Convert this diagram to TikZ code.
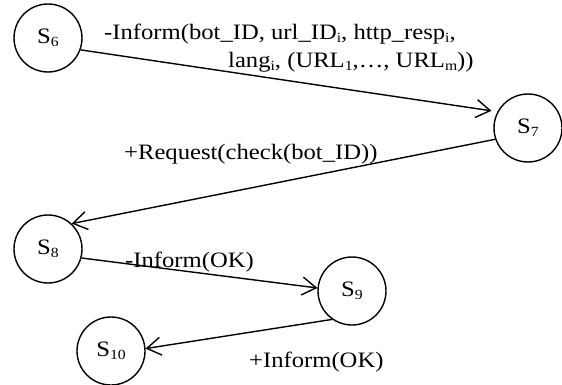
\documentclass[tikz,border=0pt]{standalone}
\usepackage{fontspec}
\setmainfont[FakeStretch=1.12]{Liberation Serif}
\usepackage{xcolor}
\usetikzlibrary{arrows.meta}
\definecolor{ink}{HTML}{000000}
\newcommand{\sbs}[1]{\raisebox{-3pt}{\fontsize{14}{14}\selectfont #1}}
\tikzset{
  state/.style={circle, draw=ink, line width=1.4pt, minimum size=68pt, inner sep=0pt, font=\fontsize{22}{24}\selectfont},
  msg/.style={draw=ink, line width=1.4pt, -{Straight Barb[length=14pt,width=18pt,line width=1.4pt]}},
  lab/.style={text=ink, inner sep=0pt, font=\fontsize{22}{28}\selectfont},
}
\begin{document}
\begin{tikzpicture}[x=1pt,y=-1pt]
  \useasboundingbox (0,0) rectangle (562,385);
  \node[state] (s6) at (48,38) {S\sbs{6}};
  \node[state] (s7) at (528,128) {S\sbs{7}};
  \node[state] (s8) at (48,249) {S\sbs{8}};
  \node[state] (s9) at (352,291) {S\sbs{9}};
  \node[state] (s10) at (111,351) {S\sbs{10}};
  \draw[msg, shorten >=6pt] (s6.-20) -- (s7.152);
  \draw[msg] (s7.-161) -- (s8.47);
  \draw[msg] (s8.-15) -- (s9.175);
  \draw[msg] (s9.235) -- (s10.4);
  % base anchor of a two-line node sits on its last line
  \node[lab, anchor=base west, align=left] (l67) at (104,68)
    {-Inform(bot\_ID, url\_ID\sbs{i}, http\_resp\sbs{i},\\
     \hspace*{124pt}lang\sbs{i}, (URL\sbs{1},\dots, URL\sbs{m}))};
  \node[lab, anchor=base west] (l78) at (124,160) {+Request(check(bot\_ID))};
  \node[lab, anchor=base west] (l89) at (125,267) {-Inform(OK)};
  \node[lab, anchor=base west] (l910) at (249,367) {+Inform(OK)};
\end{tikzpicture}
\end{document}
